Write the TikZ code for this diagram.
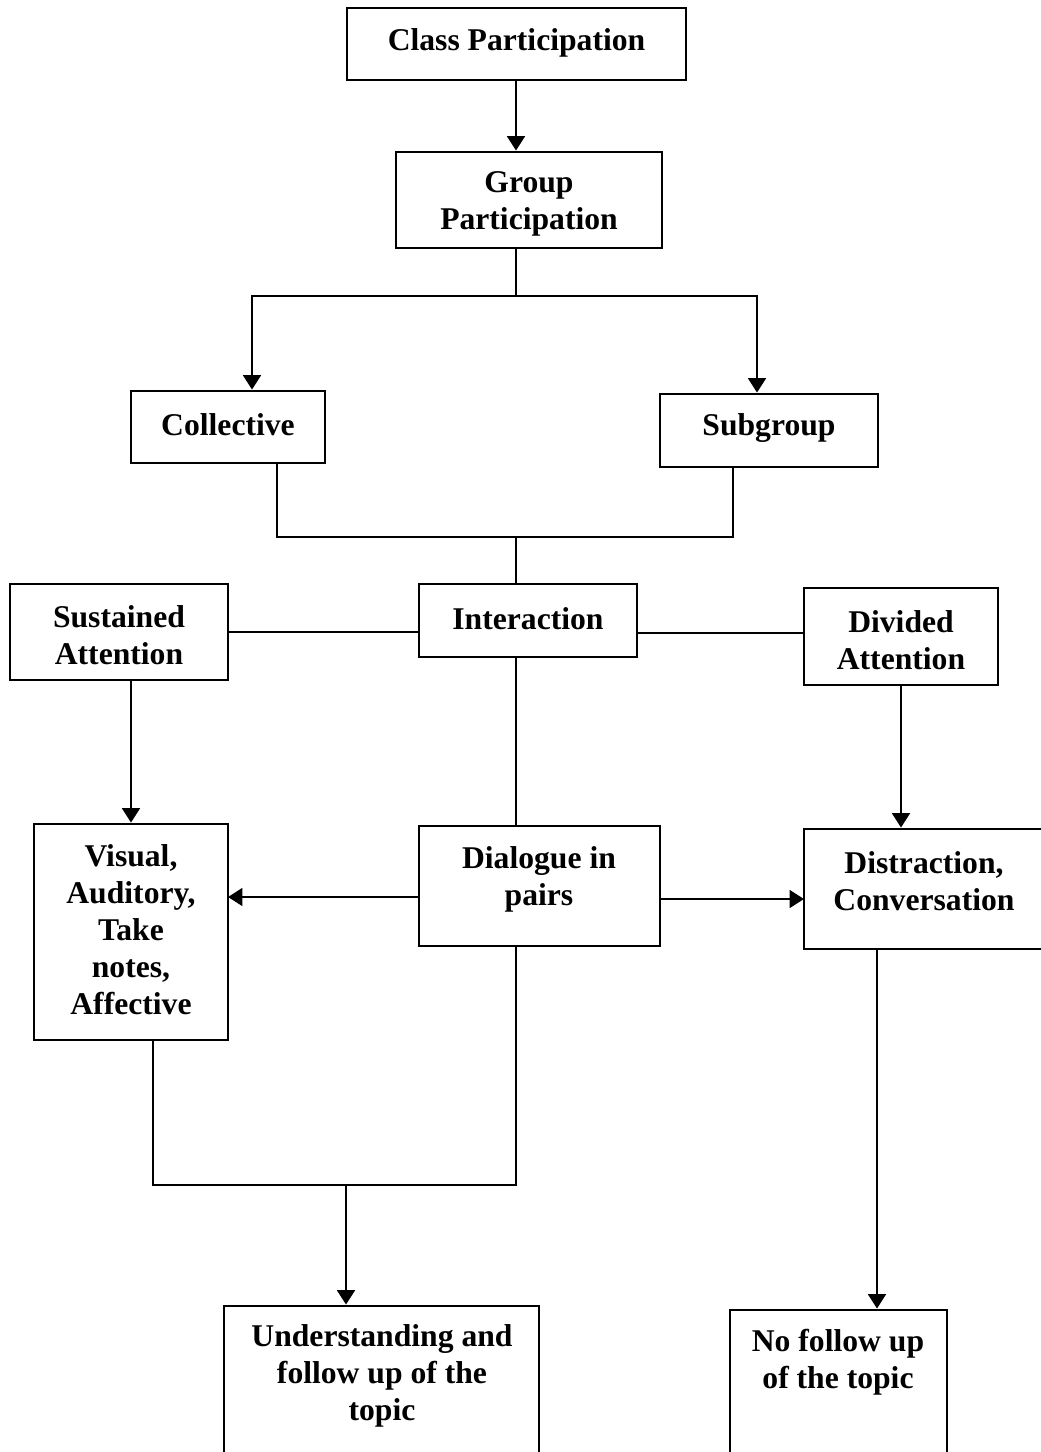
\documentclass[tikz,border=0pt]{standalone}
\usepackage{fontspec}
\setmainfont{Liberation Serif}
\usetikzlibrary{arrows.meta}
\begin{document}
\begin{tikzpicture}[x=0.025cm,y=-0.025cm,font=\bfseries\fontsize{22.5}{26.3}\selectfont,box/.style={draw, line width=2pt, inner sep=0pt},txt/.style={align=center, inner sep=0pt},link/.style={line width=2pt},arr/.style={link, -{Triangle[length=0.36cm,width=0.44cm]}}]
\useasboundingbox[fill=white] (0,0) rectangle (1040,1452);
% boxes
\node[box, minimum width=339*0.025cm, minimum height=72*0.025cm] (cls) at (516.5,44) {};
\node[txt] (clst) at (516.5,43) {Class Participation};
\node[box, minimum width=266*0.025cm, minimum height=96*0.025cm] (grp) at (529,200) {};
\node[txt] (grpt) at (529,204) {Group\\Participation};
\node[box, minimum width=194*0.025cm, minimum height=72*0.025cm] (col) at (228,427) {};
\node[txt] (colt) at (228,425) {Collective};
\node[box, minimum width=218*0.025cm, minimum height=73*0.025cm] (sub) at (769,430.5) {};
\node[txt] (subt) at (769,428) {Subgroup};
\node[box, minimum width=218*0.025cm, minimum height=96*0.025cm] (sus) at (119,632) {};
\node[txt] (sust) at (119,635) {Sustained\\Attention};
\node[box, minimum width=218*0.025cm, minimum height=73*0.025cm] (int) at (528,620.5) {};
\node[txt] (intt) at (528,619) {Interaction};
\node[box, minimum width=194*0.025cm, minimum height=97*0.025cm] (div) at (901,636.5) {};
\node[txt] (divt) at (901,640) {Divided\\Attention};
\node[box, minimum width=194*0.025cm, minimum height=216*0.025cm] (vis) at (131,932) {};
\node[txt] (vist) at (131,930) {Visual,\\Auditory,\\Take\\notes,\\Affective};
\node[box, minimum width=241*0.025cm, minimum height=120*0.025cm] (dia) at (539.5,886) {};
\node[txt] (diat) at (539,879) {Dialogue in\\pairs};
\node[box, minimum width=246*0.025cm, minimum height=120*0.025cm] (dis) at (927,889) {};
\node[txt] (dist) at (924,881) {Distraction,\\Conversation};
\node[box, minimum width=315*0.025cm, minimum height=154*0.025cm] (und) at (381.5,1383) {};
\node[txt] (undt) at (382,1376) {Understanding and\\follow up of the\\topic};
\node[box, minimum width=217*0.025cm, minimum height=150*0.025cm] (nof) at (838.5,1385) {};
\node[txt] (noft) at (838,1362) {No follow up\\of the topic};
% junction points
\coordinate (split) at (516,296); \coordinate (lt) at (252,296); \coordinate (rt) at (757,296);
\coordinate (jl) at (277,537); \coordinate (jm) at (516,537); \coordinate (jr) at (733,537);
\coordinate (pl) at (228,897); \coordinate (pr) at (804,899); \coordinate (hr) at (804,633);
\coordinate (bl) at (153,1185); \coordinate (bm) at (346,1185); \coordinate (br) at (516,1185);
\coordinate (rk) at (877,1200);
% connectors
\draw[arr] (cls.south -| split) -- (grp.north -| split);
\draw[link] (grp.south -| split) -- (split);
\draw[arr] (split) -- (lt) -- (lt |- col.north);
\draw[arr] (split) -- (rt) -- (rt |- sub.north);
\draw[link] (col.south -| jl) -- (jl) -- (jr) -- (sub.south -| jr);
\draw[link] (jm) -- (int.north -| jm);
\draw[link] (sus.east) -- (sus.east -| int.west);
\draw[link] (int.east |- hr) -- (hr);
\draw[arr] (vis.north |- sus.south) -- (vis.north);
\draw[link] (int.south -| jm) -- (dia.north -| jm);
\draw[arr] (div.south) -- (dis.north -| div.south);
\draw[arr] (dia.west |- pl) -- (pl);
\draw[arr] (dia.east |- pr) -- (pr);
\draw[link] (vis.south -| bl) -- (bl) -- (br) -- (dia.south -| br);
\draw[arr] (bm) -- (und.north -| bm);
\draw[arr] (dis.south -| rk) -- (nof.north -| rk);
\end{tikzpicture}
\end{document}
